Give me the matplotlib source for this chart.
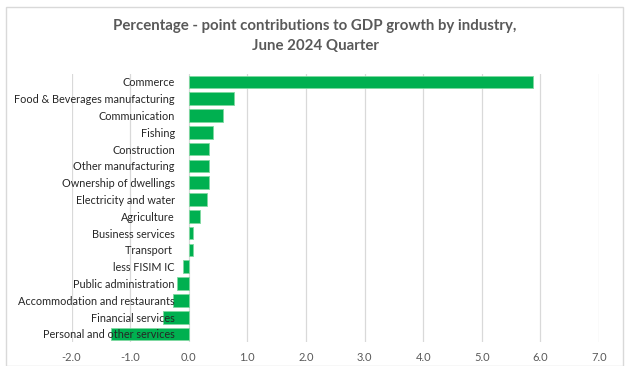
import matplotlib
matplotlib.use("Agg")
import matplotlib.pyplot as plt
from matplotlib.patches import Rectangle

industries = [
    "Commerce",
    "Food & Beverages manufacturing",
    "Communication",
    "Fishing",
    "Construction",
    "Other manufacturing",
    "Ownership of dwellings",
    "Electricity and water",
    "Agriculture",
    "Business services",
    "Transport ",
    "less FISIM IC",
    "Public administration",
    "Accommodation and restaurants",
    "Financial services",
    "Personal and other services",
]
contributions = [5.88, 0.78, 0.59, 0.42, 0.35, 0.35, 0.34, 0.31, 0.19, 0.07,
                 0.07, -0.09, -0.20, -0.27, -0.44, -1.33]
x_ticks = [-2.0, -1.0, 0.0, 1.0, 2.0, 3.0, 4.0, 5.0, 6.0, 7.0]

W, H = 629, 366
fig = plt.figure(figsize=(W / 100, H / 100), dpi=100)
fig.patch.set_facecolor("white")

# outer chart border
fig.add_artist(Rectangle((6 / W, 0), (623 - 6) / W, (H - 7) / H,
                         transform=fig.transFigure, fill=False,
                         edgecolor="#d9d9d9", linewidth=1.0))

ax = fig.add_axes([71.5 / W, (H - 342.4) / H, 527.5 / W, 268.8 / H])
pos = list(range(len(industries)))
ax.barh(pos, contributions, height=0.75, color="#00b050",
        edgecolor="#7fd9a0", linewidth=0.6, zorder=1)

# category labels sit at the zero line
for s in ["top", "right", "bottom"]:
    ax.spines[s].set_visible(False)
ax.spines["left"].set_position(("data", 0))
ax.spines["left"].set_visible(False)

ax.set_xlim(-2, 7)
ax.set_ylim(len(industries) - 0.5, -0.5)
ax.set_xticks(x_ticks)
ax.set_xticklabels([f"{v:.1f}" for v in x_ticks], fontsize=8,
                   color="#595959", fontfamily="Lato")
ax.set_yticks(pos)
ax.set_yticklabels(industries, fontsize=7.8, color="#262626", fontfamily="Lato")

ax.grid(axis="x", color="#d9d9d9", linewidth=0.9)
ax.set_axisbelow(True)
# gridlines stay behind the bars, category labels are written over them
ax.yaxis.set_zorder(5)
ax.tick_params(axis="y", length=0, pad=10)
ax.tick_params(axis="x", length=0, pad=7)

fig.text(0.501, 1 - 26 / H, "Percentage - point contributions to GDP growth by industry,",
         ha="center", va="center", fontsize=10.8, fontweight="bold",
         color="#595959", fontfamily="Lato")
fig.text(0.501, 1 - 46.5 / H, "June 2024 Quarter",
         ha="center", va="center", fontsize=10.8, fontweight="bold",
         color="#595959", fontfamily="Lato")

fig.savefig("out.png", dpi=100, facecolor="white")
